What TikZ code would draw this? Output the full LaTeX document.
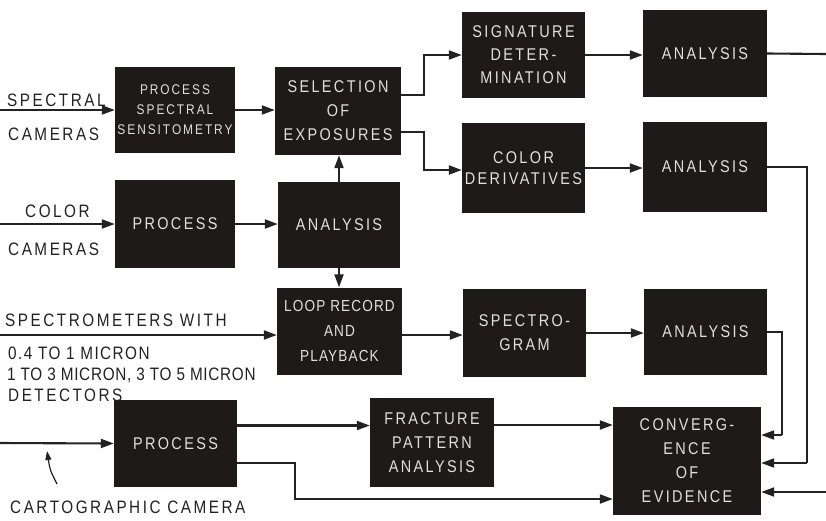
\documentclass[tikz,border=0pt]{standalone}
\usepackage{fontspec}
\setmainfont{Liberation Sans}
\newfontfamily\boxfont[FakeStretch=0.85,LetterSpace=14]{Liberation Sans}
\newfontfamily\loopfont[FakeStretch=0.85,LetterSpace=7]{Liberation Sans}
\newfontfamily\midfont[FakeStretch=0.85,LetterSpace=8]{Liberation Sans}
\newfontfamily\tightfont[FakeStretch=0.85,LetterSpace=4]{Liberation Sans}
\usetikzlibrary{arrows.meta}
\definecolor{boxc}{HTML}{1E1A1A}
\definecolor{inkc}{HTML}{222222}
\begin{document}
\begin{tikzpicture}[x=1pt,y=-1pt,
  blk/.style={fill=boxc,text=white!88!black,inner sep=0pt,align=center,
    font=\boxfont\fontsize{17}{24}\selectfont},
  arr/.style={draw=inkc,line width=2.1pt,-{Triangle[length=13pt,width=9pt]}},
  ln/.style={draw=inkc,line width=2.1pt},
  lab/.style={text=inkc,inner sep=0pt,anchor=west,font=\boxfont\fontsize{18}{20}\selectfont}]
\useasboundingbox (0,0) rectangle (826,520);
\fill[white] (0,0) rectangle (826,520);

% boxes
\node[blk,minimum width=120pt,minimum height=86pt,font=\boxfont\fontsize{14}{20}\selectfont] (b1) at (175,110) {PROCESS\\SPECTRAL\\SENSITOMETRY};
\node[blk,minimum width=126pt,minimum height=88pt] (sel) at (338,111) {SELECTION\\OF\\EXPOSURES};
\node[blk,minimum width=123pt,minimum height=86pt,font=\boxfont\fontsize{17}{23}\selectfont] (sig) at (523.5,55) {SIGNATURE\\DETER-\\MINATION};
\node[blk,minimum width=124pt,minimum height=87pt] (an1) at (705,53.5) {ANALYSIS};
\node[blk,minimum width=123pt,minimum height=90pt,font=\boxfont\fontsize{17}{21}\selectfont] (cd) at (523.5,168) {COLOR\\DERIVATIVES};
\node[blk,minimum width=124pt,minimum height=90pt] (an2) at (705,167) {ANALYSIS};
\node[blk,minimum width=120pt,minimum height=88pt] (p2) at (175,224) {PROCESS};
\node[blk,minimum width=122pt,minimum height=86pt] (an0) at (339,225) {ANALYSIS};
\node[blk,minimum width=125pt,minimum height=87pt,font=\loopfont\fontsize{16}{25}\selectfont] (loop) at (339.5,331) {LOOP RECORD\\AND\\PLAYBACK};
\node[blk,minimum width=123pt,minimum height=88pt] (spg) at (524.5,333) {SPECTRO-\\GRAM};
\node[blk,minimum width=123pt,minimum height=86pt] (an3) at (705.5,332) {ANALYSIS};
\node[blk,minimum width=123pt,minimum height=87pt] (p3) at (175.5,443.5) {PROCESS};
\node[blk,minimum width=124pt,minimum height=89pt] (fpa) at (432,442.5) {FRACTURE\\PATTERN\\ANALYSIS};
\node[blk,minimum width=148pt,minimum height=108pt] (conv) at (687,461) {CONVERG-\\ENCE\\OF\\EVIDENCE};

% labels
\node[lab] (tS1) at (7,100) {SPECTRAL};
\node[lab] (tS2) at (8,134) {CAMERAS};
\node[lab] (tC1) at (25,211) {COLOR};
\node[lab] (tC2) at (8,249) {CAMERAS};
\node[lab] (tP1) at (5,320) {SPECTROMETERS WITH};
\node[lab,font=\midfont\fontsize{18}{20}\selectfont] (tP2) at (8,353) {0.4 TO 1 MICRON};
\node[lab,font=\tightfont\fontsize{18}{20}\selectfont] (tP3) at (7,375) {1 TO 3 MICRON, 3 TO 5 MICRON};
\node[lab] (tP4) at (8,395) {DETECTORS};
\node[lab] (tK) at (10,507) {CARTOGRAPHIC CAMERA};

% free ends
\coordinate (inS) at (0,110);
\coordinate (inC) at (0,224);
\coordinate (inP) at (0,335);
\coordinate (inK) at (0,443);
\coordinate (outA) at (826,54);
\coordinate (inR) at (826,492);
\coordinate (r2) at (807,463);
\coordinate (r3) at (782,435);
\coordinate (kTail) at (57,484);
\coordinate (kTip) at (47,451);

% connectors
\draw[arr] (inS) -- (b1.west);
\draw[arr] (b1.east) -- (b1.east -| sel.west);
\draw[arr] ([yshift=16pt]sel.east) -- ++(23,0) |- (sig.west);
\draw[arr] ([yshift=-21pt]sel.east) -- ++(23,0) |- ([yshift=-2pt]cd.west);
\draw[arr] (an0.north) -- (an0.north |- sel.south);
\draw[arr] (an0.south) -- (an0.south |- loop.north);
\draw[arr] (sig.east) -- (sig.east -| an1.west);
\draw[ln] (an1.east) -- (outA);
\draw[arr] (cd.east) -- (cd.east -| an2.west);
\draw[ln] (an2.east) -| (r2);
\draw[arr] (r2) -- (r2 -| conv.east);
\draw[arr] (inC) -- (p2.west);
\draw[arr] (p2.east) -- (p2.east -| an0.west);
\draw[arr] (inP) -- (inP -| loop.west);
\draw[arr] ([yshift=-2pt]spg.west -| loop.east) -- ([yshift=-2pt]spg.west);
\draw[arr] (spg.east) -- (spg.east -| an3.west);
\draw[ln] (an3.east) -| (r3);
\draw[arr] (r3) -- (r3 -| conv.east);
\draw[arr] (inR) -- (inR -| conv.east);
\draw[arr] (inK) -- (p3.west);
\draw[arr] ([yshift=18pt]p3.east) -- ([yshift=18pt]p3.east -| fpa.west);
\draw[arr] ([yshift=-19.5pt]p3.east) -- (295,463) -- (295,499) -- (conv.west |- 0,499);
\draw[arr] ([yshift=17.5pt]fpa.east) -- ([yshift=17.5pt]fpa.east -| conv.west);
\draw[draw=inkc,line width=1.2pt,-{Triangle[length=9pt,width=6pt]}] (kTail) .. controls (50,470) .. (kTip);
\end{tikzpicture}
\end{document}
